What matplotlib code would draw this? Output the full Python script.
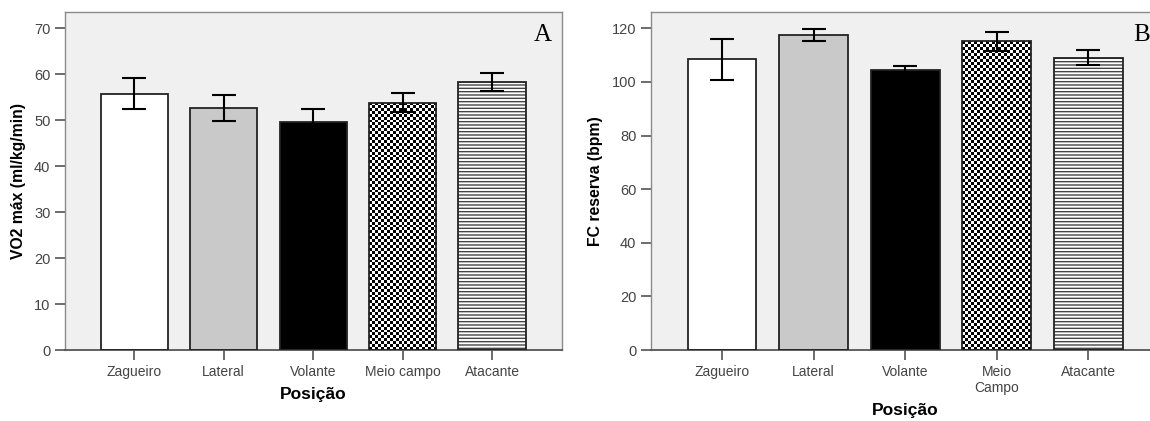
import numpy as np
import matplotlib
matplotlib.use("Agg")
import matplotlib.pyplot as plt

plt.rcParams['font.family'] = ['Liberation Sans', 'DejaVu Sans']
plt.rcParams['hatch.linewidth'] = 1.0

# data (mean and error half-width)
posicoes_a = ["Zagueiro", "Lateral", "Volante", "Meio campo", "Atacante"]
posicoes_b = ["Zagueiro", "Lateral", "Volante", "Meio\nCampo", "Atacante"]
vo2_media = [55.8, 52.6, 49.6, 53.8, 58.4]
vo2_erro = [3.35, 2.8, 2.8, 2.1, 1.95]
fc_media = [108.4, 117.5, 104.4, 115.1, 109.1]
fc_erro = [7.65, 2.4, 1.5, 3.5, 2.9]

FILLS = ["white", "#c9c9c9", "black", "check", "lines"]
BG = "#f0f0f0"
TICK_GREY = "#444444"


def draw_panel(ax, labels, means, errs, ymax, yticks, ylabel, letter):
    x = np.arange(len(means))
    w = 0.75
    ax.set_facecolor(BG)
    ax.set_xlim(-0.775, len(means) - 1 + 0.78)
    ax.set_ylim(0, ymax)
    for i, (m, style) in enumerate(zip(means, FILLS)):
        if style == "check":
            bar = ax.bar(x[i], m, w, color="white", edgecolor="none", zorder=2)[0]
            # square cells of about 3 px
            p0 = ax.transData.transform((x[i] - w / 2, 0))
            p1 = ax.transData.transform((x[i] + w / 2, m))
            ncol = 23
            cell = (p1[0] - p0[0]) / ncol
            nrow = int(round((p1[1] - p0[1]) / cell))
            board = (np.add.outer(np.arange(nrow), np.arange(ncol)) % 2).astype(float)
            im = ax.imshow(board, cmap="gray", extent=(x[i] - w / 2, x[i] + w / 2, 0, m),
                           aspect="auto", interpolation="nearest", zorder=2.5)
            im.set_clip_path(bar)
        elif style == "lines":
            ax.bar(x[i], m, w, color="white", edgecolor="#444444", hatch="-----",
                   linewidth=0, zorder=2)
        else:
            ax.bar(x[i], m, w, color=style, linewidth=0, zorder=2)
        ax.bar(x[i], m, w, fill=False, edgecolor="#222222", linewidth=1.3, zorder=3)
    ax.errorbar(x, means, yerr=errs, fmt="none", ecolor="black", elinewidth=1.5,
                capsize=8.5, capthick=1.5, zorder=4)

    ax.set_xlim(-0.775, len(means) - 1 + 0.78)
    ax.set_ylim(0, ymax)
    ax.set_yticks(yticks)
    ax.set_xticks(x)
    ax.set_xticklabels(labels, fontsize=10, color=TICK_GREY, linespacing=1.2)
    ax.tick_params(axis="both", colors=TICK_GREY, length=7, width=1.1,
                   labelcolor=TICK_GREY)
    ax.tick_params(axis="y", labelsize=10.5)
    for s in ax.spines.values():
        s.set_color("#8a8a8a")
        s.set_linewidth(1.0)
    ax.spines["bottom"].set_color("#555555")
    ax.spines["bottom"].set_linewidth(1.3)
    ax.set_ylabel(ylabel, fontsize=11.3, fontweight="bold", labelpad=6)
    ax.set_xlabel("Posição", fontsize=12.5, fontweight="bold", labelpad=6)
    ax.text(0.98, 0.965, letter, transform=ax.transAxes, ha="right", va="top",
            fontsize=18, family="Liberation Serif", zorder=5)


fig = plt.figure(figsize=(11.5, 4.21), dpi=100)
ax_a = fig.add_axes([0.0565, 0.1686, 0.432, 0.8036])
ax_b = fig.add_axes([0.566, 0.1686, 0.4426, 0.8036])

draw_panel(ax_a, posicoes_a, vo2_media, vo2_erro, 73.6, range(0, 71, 10),
           "VO2 máx (ml/kg/min)", "A")
draw_panel(ax_b, posicoes_b, fc_media, fc_erro, 126.2, range(0, 121, 20),
           "FC reserva (bpm)", "B")

fig.savefig("out.png", dpi=100)
